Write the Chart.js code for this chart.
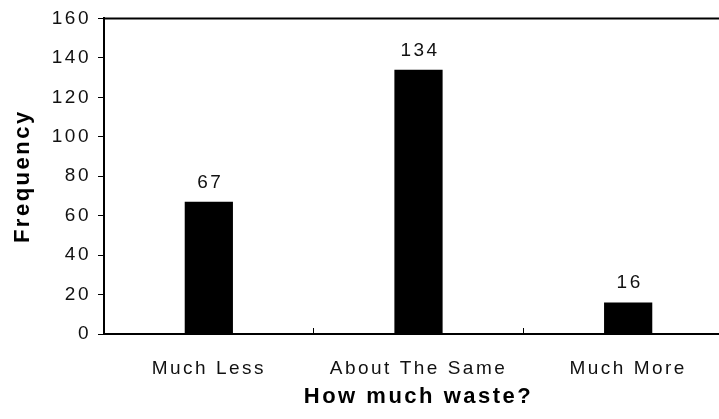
<!DOCTYPE html>
<html>
<head>
<meta charset="utf-8">
<script src="https://cdn.jsdelivr.net/npm/chart.js@4.4.1/dist/chart.umd.min.js"></script>
<style>
  html, body { margin: 0; padding: 0; background: #fff; overflow: hidden; }
  #wrap { width: 719px; height: 419px; overflow: hidden; }
</style>
</head>
<body>
<div id="wrap"><canvas id="wasteChart" width="733" height="419"></canvas></div>
<script>
// data
const categories = ['Much Less', 'About The Same', 'Much More'];
const frequencies = [67, 134, 16];
const yTicks = [0, 20, 40, 60, 80, 100, 120, 140, 160];
const xTitle = 'How much waste?';
const yTitle = 'Frequency';

const fontFamily = '"Liberation Sans", Arial, sans-serif';

// wide letter spacing like the original font
const spacing = {
    id: 'spacing',
    beforeDraw(chart) {
        chart.ctx.letterSpacing = '2.5px';
    }
};

// top edge of the frame
const frameTop = {
    id: 'frameTop',
    afterDraw(chart) {
        const { ctx, chartArea } = chart;
        ctx.save();
        ctx.strokeStyle = '#000';
        ctx.lineWidth = 2;
        ctx.beginPath();
        ctx.moveTo(chartArea.left - 1, chartArea.top);
        ctx.lineTo(chartArea.right + 1, chartArea.top);
        ctx.stroke();
        ctx.restore();
    }
};

// value on top of each bar
const barValues = {
    id: 'barValues',
    afterDatasetsDraw(chart) {
        const { ctx } = chart;
        const meta = chart.getDatasetMeta(0);
        ctx.save();
        ctx.letterSpacing = '2.5px';
        ctx.font = '19px ' + fontFamily;
        ctx.fillStyle = '#111';
        ctx.textAlign = 'center';
        ctx.textBaseline = 'alphabetic';
        meta.data.forEach((bar, i) => {
            ctx.fillText(String(frequencies[i]), bar.x + 1.5, bar.y - 14);
        });
        ctx.restore();
    }
};

new Chart(document.getElementById('wasteChart'), {
    type: 'bar',
    data: {
        labels: categories,
        datasets: [{
            data: frequencies,
            backgroundColor: '#000',
            borderWidth: 0,
            categoryPercentage: 1,
            barPercentage: 0.23
        }]
    },
    options: {
        responsive: false,
        animation: false,
        layout: { padding: { top: 18, right: 0, left: 0, bottom: 0 } },
        plugins: {
            legend: { display: false },
            tooltip: { enabled: false }
        },
        scales: {
            x: {
                offset: true,
                grid: {
                    offset: true,
                    drawOnChartArea: false,
                    tickLength: -6,
                    color: '#000',
                    lineWidth: 1
                },
                border: { color: '#000', width: 2 },
                ticks: {
                    color: '#111',
                    padding: 29,
                    maxRotation: 0,
                    font: { size: 19, family: fontFamily }
                },
                title: {
                    display: true,
                    text: xTitle,
                    color: '#000',
                    padding: { top: 0, bottom: 9 },
                    font: { size: 22, weight: 'bold', family: fontFamily }
                },
                afterFit(scale) { scale.height = 85; }
            },
            y: {
                min: 0,
                max: 160,
                afterBuildTicks(scale) {
                    scale.ticks = yTicks.map(v => ({ value: v }));
                },
                grid: {
                    drawOnChartArea: false,
                    tickLength: 6,
                    color: '#000',
                    lineWidth: 1
                },
                border: { color: '#000', width: 2 },
                ticks: {
                    color: '#111',
                    padding: 7,
                    font: { size: 19, family: fontFamily }
                },
                title: {
                    display: true,
                    text: yTitle,
                    color: '#000',
                    padding: { top: 10, bottom: 0 },
                    font: { size: 22, weight: 'bold', family: fontFamily }
                },
                afterFit(scale) { scale.width = 104; }
            }
        }
    },
    plugins: [spacing, frameTop, barValues]
});
</script>
</body>
</html>
